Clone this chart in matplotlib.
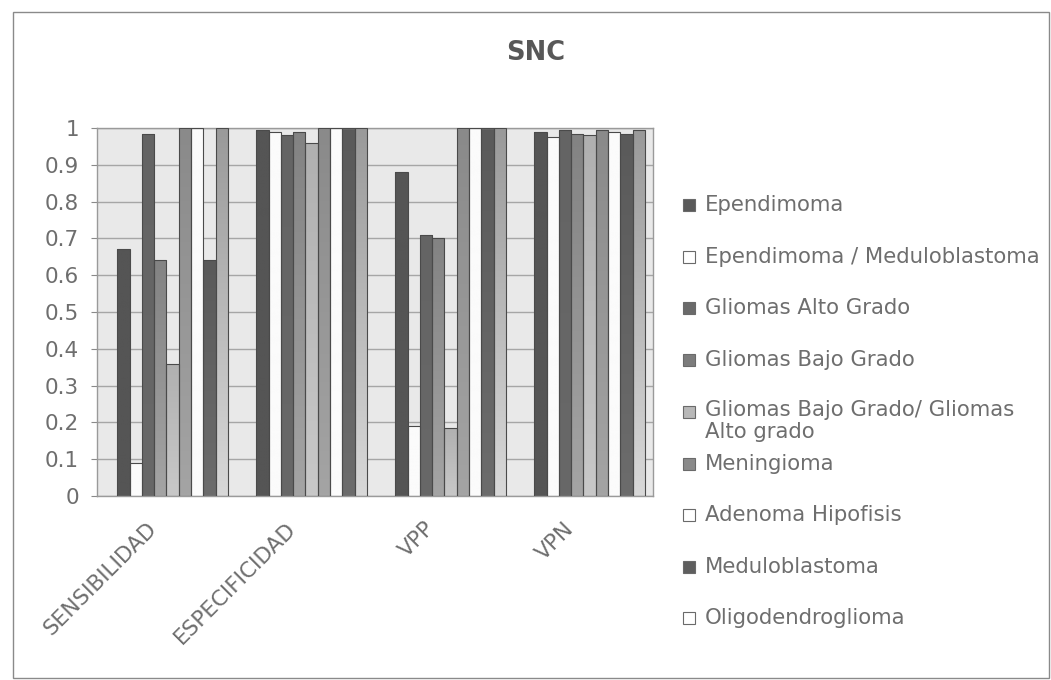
import numpy as np
import matplotlib
matplotlib.use("Agg")
import matplotlib.pyplot as plt
from matplotlib.colors import to_rgb
from matplotlib.patches import Rectangle
from matplotlib.transforms import ScaledTranslation

plt.rcParams['font.family'] = ['DejaVu Sans']

categories = ['SENSIBILIDAD', 'ESPECIFICIDAD', 'VPP', 'VPN']
series = ['Ependimoma', 'Ependimoma / Meduloblastoma', 'Gliomas Alto Grado',
          'Gliomas Bajo Grado', 'Gliomas Bajo Grado/ Gliomas\nAlto grado',
          'Meningioma', 'Adenoma Hipofisis', 'Meduloblastoma', 'Oligodendroglioma']

ependimoma = [0.67, 0.995, 0.88, 0.99]
epend_medulo = [0.09, 0.99, 0.19, 0.975]
gliomas_alto = [0.985, 0.98, 0.71, 0.995]
gliomas_bajo = [0.64, 0.99, 0.70, 0.985]
gliomas_mixto = [0.36, 0.96, 0.185, 0.98]
meningioma = [1.0, 1.0, 1.0, 0.995]
adenoma = [1.0, 1.0, 1.0, 0.99]
meduloblastoma = [0.64, 1.0, 1.0, 0.985]
oligodendroglioma = [1.0, 1.0, 1.0, 0.995]

values = [ependimoma, epend_medulo, gliomas_alto, gliomas_bajo, gliomas_mixto,
          meningioma, adenoma, meduloblastoma, oligodendroglioma]

# top / bottom shades of each bar fill (gradient fill)
top_colors = ['#555555', '#fbfbfb', '#646464', '#838383', '#b0b0b0',
              '#8a8a8a', '#fbfbfb', '#5a5a5a', '#9a9a9a']
bottom_colors = ['#555555', '#fbfbfb', '#686868', '#a4a4a4', '#c8c8c8',
                 '#a4a4a4', '#fbfbfb', '#6c6c6c', '#d8d8d8']
legend_colors = ['#5a5a5a', '#ffffff', '#6a6a6a', '#7c7c7c', '#b8b8b8',
                 '#8a8a8a', '#ffffff', '#5e5e5e', '#ffffff']

W, H = 1051, 680
fig = plt.figure(figsize=(W / 100, H / 100), dpi=100)
fig.patch.set_facecolor('white')

ax = fig.add_axes([97 / W, 1 - 496 / H, 556 / W, 368 / H])
ax.set_facecolor('#e9e9e9')

x = np.arange(len(categories))
bw = 0.0885
shift = 0.044
for j, vals in enumerate(values):
    bars = ax.bar(x + shift + (j - 4) * bw, vals, width=bw, color='none',
                  edgecolor='#4a4a4a', linewidth=0.8, zorder=3)
    c0 = np.array(to_rgb(bottom_colors[j]))
    c1 = np.array(to_rgb(top_colors[j]))
    t = np.linspace(0, 1, 64)[:, None]
    grad = (c0 * (1 - t) + c1 * t)[:, None, :]
    for b in bars:
        x0, y0 = b.get_x(), b.get_y()
        im = ax.imshow(grad, origin='lower', aspect='auto', zorder=2,
                       extent=[x0, x0 + b.get_width(), y0, y0 + b.get_height()],
                       interpolation='bilinear')
        im.set_clip_path(b)

ax.set_xlim(-0.5, len(categories) - 0.5)
ax.set_ylim(0, 1)
ax.set_yticks(np.arange(0, 1.01, 0.1))
ax.set_yticklabels(['0'] + ['%.1f' % v for v in np.arange(0.1, 0.95, 0.1)] + ['1'])
ax.yaxis.grid(True, color='#a6a6a6', linewidth=1.0, zorder=1)
ax.set_axisbelow(True)
ax.set_xticks(x)
ax.set_xticklabels(categories, rotation=45, ha='right', va='top',
                   rotation_mode='anchor')
ax.tick_params(axis='x', length=0, pad=16, labelsize=15.5, labelcolor='#6e6e6e')
ax.tick_params(axis='y', length=4, width=0.8, color='#8a8a8a', pad=9,
               labelsize=15.5, labelcolor='#6e6e6e')
# category labels sit a little left of the category centre
off = ScaledTranslation(-20 / 100, 0, fig.dpi_scale_trans)
for lbl in ax.get_xticklabels():
    lbl.set_transform(lbl.get_transform() + off)
for s in ax.spines.values():
    s.set_color('#9a9a9a')
    s.set_linewidth(1.0)

fig.text(536 / W, 1 - 53 / H, 'SNC', ha='center', va='center',
         fontsize=18.5, fontweight='bold', color='#585858')

# legend drawn on the figure
ys = [205, 257, 308, 360, 412, 464, 515, 567, 618]
for lab, col, yy in zip(series, legend_colors, ys):
    fig.patches.append(Rectangle((683 / W, 1 - (yy + 6) / H), 12 / W, 12 / H,
                                 transform=fig.transFigure, facecolor=col,
                                 edgecolor='#6a6a6a', linewidth=0.8))
    if '\n' in lab:
        fig.text(705 / W, 1 - (yy - 12) / H, lab, ha='left', va='top',
                 fontsize=15.3, color='#6e6e6e', linespacing=1.1)
    else:
        fig.text(705 / W, 1 - yy / H, lab, ha='left', va='center',
                 fontsize=15.3, color='#6e6e6e')

# outer chart border
fig.patches.append(Rectangle((13 / W, 1 - 678 / H), 1036 / W, 666 / H,
                             transform=fig.transFigure, facecolor='none',
                             edgecolor='#8a8a8a', linewidth=1.0))

fig.savefig('out.png', dpi=100)
